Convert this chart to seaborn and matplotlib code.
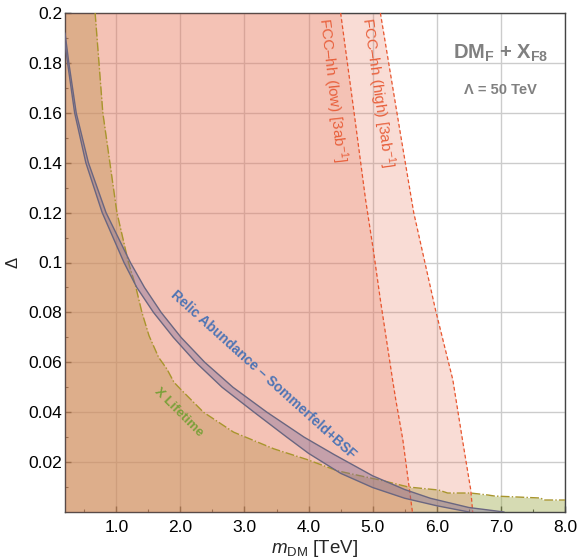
import numpy as np
import pandas as pd
import matplotlib
matplotlib.use("Agg")
import matplotlib.pyplot as plt
import seaborn as sns

# X lifetime boundary (m_DM [TeV], Delta)
lt_x = [0.67, 0.73, 0.79, 0.90, 1.01, 1.19, 1.30, 1.40, 1.51, 1.66, 1.79, 1.90, 2.00, 2.36, 2.83,
        3.46, 3.98, 4.45, 4.97, 5.12, 5.56, 6.03, 6.17, 6.53, 6.80, 6.90, 7.62, 7.67, 8.0]
lt_y = [0.200, 0.180, 0.160, 0.140, 0.120, 0.100, 0.0907, 0.080, 0.0707, 0.062, 0.0573, 0.052, 0.0493, 0.040, 0.032,
        0.0253, 0.021, 0.0165, 0.0136, 0.0128, 0.0100, 0.0088, 0.0076, 0.0076, 0.0068, 0.0064, 0.0056, 0.0048, 0.0048]

# FCC-hh reach (Delta -> m_DM)
fcc_low_y = [0.200, 0.160, 0.125, 0.105, 0.085, 0.053, 0.045, 0.029, 0.0]
fcc_low_x = [4.50, 4.71, 4.89, 5.01, 5.12, 5.31, 5.36, 5.47, 5.62]
fcc_high_y = [0.200, 0.152, 0.120, 0.081, 0.053, 0.029, 0.0088, 0.0]
fcc_high_x = [5.12, 5.43, 5.64, 5.98, 6.25, 6.40, 6.53, 6.56]

# relic abundance band (outer and inner edge)
relic_up_x = [0.20, 0.26, 0.375, 0.565, 0.84, 1.22, 1.44, 1.70, 2.01, 2.38, 2.82, 3.35, 3.93, 4.40,
              5.00, 5.50, 5.90, 6.50, 7.05]
relic_up_y = [0.192, 0.180, 0.160, 0.140, 0.120, 0.100, 0.090, 0.080, 0.070, 0.060, 0.050, 0.040, 0.030, 0.023,
              0.0145, 0.009, 0.0055, 0.0018, 0.0]
relic_lo_x = [0.20, 0.24, 0.35, 0.525, 0.78, 1.12, 1.32, 1.58, 1.89, 2.24, 2.65, 3.15, 3.66, 4.00,
              4.50, 5.00, 5.50, 6.00, 6.50]
relic_lo_y = [0.188, 0.180, 0.160, 0.140, 0.120, 0.100, 0.090, 0.080, 0.070, 0.060, 0.050, 0.040, 0.030, 0.0235,
              0.0155, 0.0098, 0.0055, 0.0025, 0.0]

xticks = [1.0, 2.0, 3.0, 4.0, 5.0, 6.0, 7.0, 8.0]
yticks = [0.02, 0.04, 0.06, 0.08, 0.1, 0.12, 0.14, 0.16, 0.18, 0.2]
ytick_labels = ['0.02', '0.04', '0.06', '0.08', '0.1', '0.12', '0.14', '0.16', '0.18', '0.2']

sns.set_style("ticks")
plt.rcParams['font.family'] = ['Liberation Sans', 'DejaVu Sans']
plt.rcParams['mathtext.fontset'] = 'custom'
plt.rcParams['mathtext.rm'] = 'Liberation Sans'
plt.rcParams['mathtext.it'] = 'Liberation Sans:italic'
plt.rcParams['mathtext.bf'] = 'Liberation Sans:bold'

fig = plt.figure(figsize=(5.77, 5.6), dpi=100)
ax = fig.add_axes([65/577, 48/560, 500/577, 499/560])

pink = '#e8785d'
# lifetime region
fx = [0.2] + lt_x
fy = [0.2] + lt_y
ax.fill_between(fx, 0, fy, color='#a4b158', alpha=0.45, lw=0, zorder=1)
# FCC regions
ax.fill_betweenx(fcc_high_y, 0.2, fcc_high_x, color=pink, alpha=0.26, lw=0, zorder=2)
ax.fill_betweenx(fcc_low_y, 0.2, fcc_low_x, color=pink, alpha=0.26, lw=0, zorder=3)

df_lt = pd.DataFrame({'m': lt_x, 'd': lt_y})
sns.lineplot(data=df_lt, x='m', y='d', ax=ax, color='#a8952c', lw=1, ls='-.', sort=False, zorder=4)
for xs, ys in [(fcc_low_x, fcc_low_y), (fcc_high_x, fcc_high_y)]:
    sns.lineplot(x=xs, y=ys, ax=ax, color='#e8552e', lw=0.9, ls=(0, (3, 2)), sort=False,
                 estimator=None, zorder=4)

# relic band
px = relic_up_x + relic_lo_x[::-1]
py = relic_up_y + relic_lo_y[::-1]
ax.fill(px, py, color='#7a6a9a', alpha=0.38, lw=0, zorder=5)
sns.lineplot(x=relic_up_x, y=relic_up_y, ax=ax, color='#6a6680', lw=1.0, sort=False, estimator=None, zorder=5)
sns.lineplot(x=relic_lo_x, y=relic_lo_y, ax=ax, color='#6a6680', lw=1.0, sort=False, estimator=None, zorder=5)

ax.set_xlim(0.2, 8.0)
ax.set_ylim(0, 0.2)
ax.set_xticks(xticks)
ax.set_xticklabels([f"{t:.1f}" for t in xticks])
ax.set_yticks(yticks)
ax.set_yticklabels(ytick_labels)
ax.set_xticks(np.arange(0.5, 8.0, 0.5), minor=True)
ax.set_yticks(np.arange(0.01, 0.2, 0.01), minor=True)
ax.tick_params(which='both', direction='in', top=False, right=False, labelsize=12.5, colors='#333333',
               labelcolor='black')
ax.tick_params(axis='y', which='major', pad=2)
ax.tick_params(axis='x', which='major', pad=6)
ax.tick_params(which='major', length=4, width=1)
ax.tick_params(which='minor', length=2.5, width=0.8)
ax.grid(True, which='major', color='#cccccc', lw=1, zorder=0)
ax.set_axisbelow(True)
for s in ax.spines.values():
    s.set_color('#444444')
    s.set_linewidth(1)

ax.set_xlabel(r'$m_{\rm DM}$ [TeV]', fontsize=13.5, labelpad=2)
ax.set_ylabel(r'$\Delta$', fontsize=12, labelpad=5)

ax.text(4.37, 0.169, r'FCC–hh (low) [3ab$^{-1}$]', color='#e8603c', fontsize=11, rotation=-83.5,
        ha='center', va='center', rotation_mode='anchor', zorder=6)
ax.text(5.07, 0.168, r'FCC–hh (high) [3ab$^{-1}$]', color='#e8603c', fontsize=11, rotation=-82,
        ha='center', va='center', rotation_mode='anchor', zorder=6)
ax.text(3.29, 0.055, 'Relic Abundance – Sommerfeld+BSF', color='#4e74b4', fontsize=10,
        fontweight='bold', rotation=-42, ha='center', va='center', rotation_mode='anchor', zorder=6)
ax.text(1.97, 0.040, 'X Lifetime', color='#7ba03a', fontsize=9.5, fontweight='bold', rotation=-45,
        ha='center', va='center', rotation_mode='anchor', zorder=6)
ax.text(7.0, 0.184, r'DM$_\mathbf{F}$ + X$_\mathbf{F8}$', color='#808080', fontsize=14.5,
        fontweight='bold', ha='center', va='center', zorder=6)
ax.text(7.0, 0.169, 'Λ = 50 TeV', color='#808080', fontsize=10.5, fontweight='bold',
        ha='center', va='center', zorder=6)

fig.savefig('out.png', dpi=100)
